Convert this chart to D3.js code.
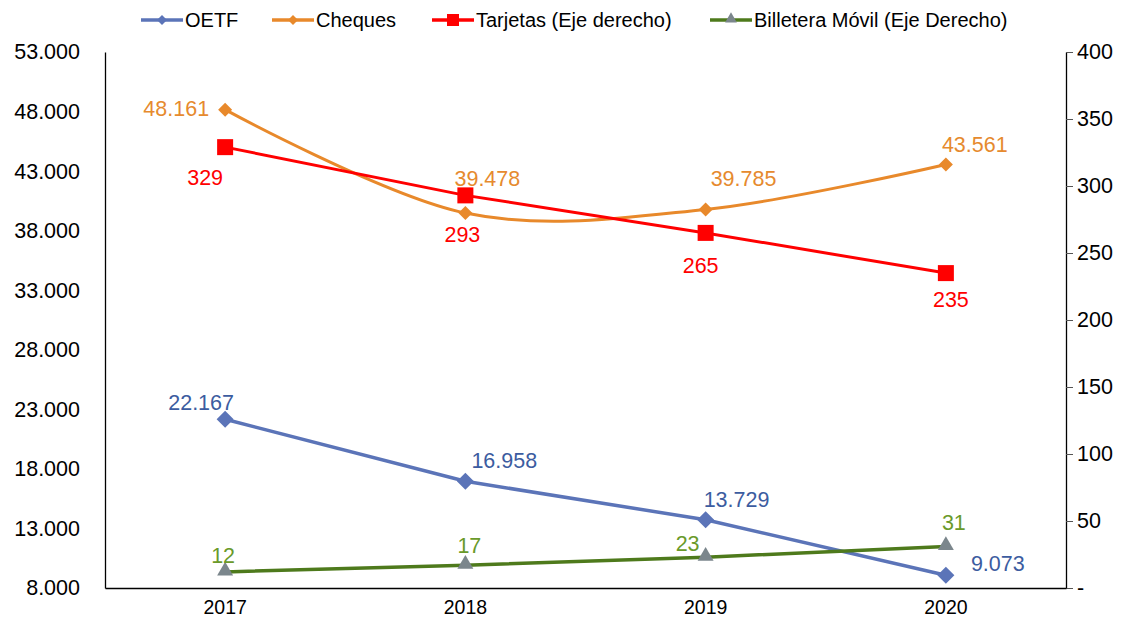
<!DOCTYPE html>
<html><head><meta charset="utf-8">
<script src="https://cdn.jsdelivr.net/npm/d3@7"></script>
<style>body{margin:0;background:#fff;}svg{display:block;font-family:"Liberation Sans",Arial,sans-serif;}</style>
</head><body>
<svg id="c" width="1132" height="618"></svg>
<script>
const years = ["2017","2018","2019","2020"];
const oetf = [22167, 16958, 13729, 9073];
const cheques = [48161, 39478, 39785, 43561];
const tarjetas = [329, 293, 265, 235];
const billetera = [12, 17, 23, 31];
const leftTicks = [8000,13000,18000,23000,28000,33000,38000,43000,48000,53000];
const rightTicks = [0,50,100,150,200,250,300,350,400];

const fmtL = v => d3.format(",")(v).replace(/,/g,".");
const fmtR = v => v===0 ? "-" : String(v);

const svg = d3.select("#c");
const m = {l:105, r:1066, t:52, b:588};
const x = d3.scaleBand().domain(years).range([m.l,m.r]);
const xc = d => x(d)+x.bandwidth()/2;
const yL = d3.scaleLinear().domain([8000,53000]).range([m.b,m.t]);
const yR = d3.scaleLinear().domain([0,400]).range([m.b,m.t]);

// axes
const axL = d3.axisLeft(yL).tickValues(leftTicks).tickFormat(fmtL).tickSize(0).tickPadding(25);
const gL = svg.append("g").attr("transform",`translate(${m.l},0)`).call(axL);
const axR = d3.axisRight(yR).tickValues(rightTicks).tickFormat(fmtR).tickSize(7).tickSizeOuter(0).tickPadding(4);
const gR = svg.append("g").attr("transform",`translate(${m.r},0)`).call(axR);
const axB = d3.axisBottom(x).tickSize(0);
const gB = svg.append("g").attr("transform",`translate(0,${m.b})`).call(axB);
[gL,gR,gB].forEach(g=>{
  g.select(".domain").attr("stroke","#000").attr("stroke-width",1.3);
  g.selectAll("line").attr("stroke","#555");
  g.selectAll("text").attr("font-size",21.5).attr("fill","#000").attr("font-family","Liberation Sans, Arial, sans-serif");
});
gB.selectAll("text").attr("font-size",19.5).attr("y",26).attr("dy",0);

const C = {
  oetf:{line:"#5B74B8", lab:"#3C5CA0"},
  cheq:{line:"#E8892B", lab:"#E68A2E"},
  tarj:{line:"#FF0000", lab:"#FF0000"},
  bill:{line:"#4E7A1C", lab:"#6A9A2A", mk:"#7B868C"}
};

const linear = d3.line().curve(d3.curveLinear);
const smooth = d3.line().curve(d3.curveCardinal.tension(0));

function series(vals, y, color, width, gen){
  const pts = vals.map((v,i)=>[xc(years[i]), y(v)]);
  svg.append("path").attr("d",gen(pts)).attr("fill","none").attr("stroke",color).attr("stroke-width",width).attr("stroke-linejoin","round");
  return pts;
}
const pO = series(oetf, yL, C.oetf.line, 3.5, linear);
const pB = series(billetera, yR, C.bill.line, 3.5, linear);
const pC = series(cheques, yL, C.cheq.line, 3, smooth);
const pT = series(tarjetas, yR, C.tarj.line, 3, linear);

const sym = (type,size)=>d3.symbol().type(type).size(size)();
function markers(pts, type, size, fill, dy=0){
  svg.append("g").selectAll("path").data(pts).join("path")
    .attr("d",sym(type,size)).attr("fill",fill)
    .attr("transform",d=>`translate(${d[0]},${d[1]+dy})`);
}
function diamond(pts, r, fill){
  svg.append("g").selectAll("path").data(pts).join("path")
    .attr("d",`M0,${-r}L${r},0L0,${r}L${-r},0Z`).attr("fill",fill)
    .attr("transform",d=>`translate(${d[0]},${d[1]})`);
}
diamond(pO, 8.5, C.oetf.line);
diamond(pC, 7, C.cheq.line);
svg.append("g").selectAll("rect").data(pT).join("rect")
  .attr("x",d=>d[0]-8).attr("y",d=>d[1]-8).attr("width",16).attr("height",16).attr("fill",C.tarj.line);
markers(pB, d3.symbolTriangle, 110, C.bill.mk, -1);

// labels: [dx, dy, anchor]
const offO = [[-24,-9,"middle"],[6,-13,"start"],[-2,-13,"start"],[25,-4,"start"]];
const offC = [[-16,6,"end"],[22,-27,"middle"],[5,-23,"start"],[-4,-12,"start"]];
const offT = [[-20,38,"middle"],[-3,47,"middle"],[-5,40,"middle"],[5,34,"middle"]];
const offB = [[-2,-9,"middle"],[4,-12,"middle"],[-18,-6,"middle"],[8,-16,"middle"]];
function labels(pts, vals, off, fmt, color){
  svg.append("g").selectAll("text").data(pts).join("text")
    .attr("x",(d,i)=>d[0]+off[i][0]).attr("y",(d,i)=>d[1]+off[i][1])
    .attr("text-anchor",(d,i)=>off[i][2])
    .attr("font-size",21.5).attr("fill",color)
    .text((d,i)=>fmt(vals[i]));
}
labels(pO, oetf, offO, fmtL, C.oetf.lab);
labels(pC, cheques, offC, fmtL, C.cheq.lab);
labels(pT, tarjetas, offT, String, C.tarj.lab);
labels(pB, billetera, offB, String, C.bill.lab);

// legend
const legend = [
  {name:"OETF", x:141, c:C.oetf.line, m:"diamond"},
  {name:"Cheques", x:272, c:C.cheq.line, m:"diamond"},
  {name:"Tarjetas (Eje derecho)", x:432, c:C.tarj.line, m:"square"},
  {name:"Billetera Móvil (Eje Derecho)", x:710, c:C.bill.line, m:"tri"}
];
const lg = svg.append("g");
legend.forEach(d=>{
  const g = lg.append("g").attr("transform",`translate(${d.x},20)`);
  g.append("line").attr("x1",0).attr("x2",42).attr("stroke",d.c).attr("stroke-width",3.5);
  if(d.m==="diamond") g.append("path").attr("d","M21,-5L26,0L21,5L16,0Z").attr("fill",d.c);
  if(d.m==="square") g.append("rect").attr("x",15).attr("y",-6).attr("width",12).attr("height",12).attr("fill",d.c);
  if(d.m==="tri") g.append("path").attr("d",sym(d3.symbolTriangle,60)).attr("transform","translate(21,-1)").attr("fill",C.bill.mk);
  g.append("text").attr("x",44).attr("y",7).attr("font-size",20).attr("fill","#000").text(d.name);
});
</script>
</body></html>
